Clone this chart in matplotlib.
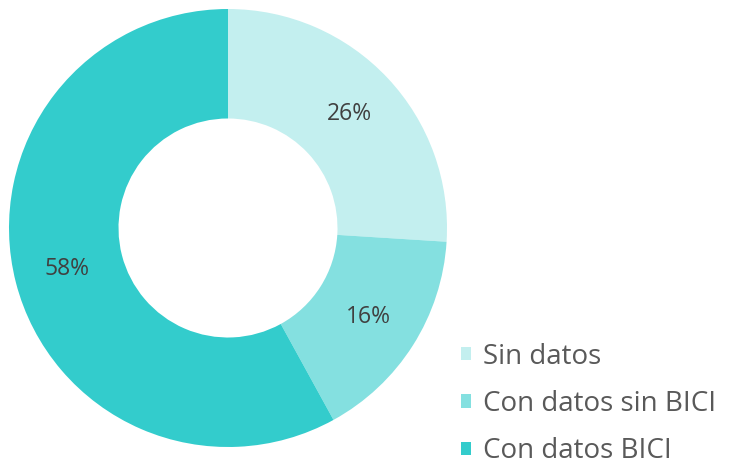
import matplotlib
matplotlib.use("Agg")
import matplotlib.pyplot as plt

# data
labels = ["Sin datos", "Con datos sin BICI", "Con datos BICI"]
values = [26, 16, 58]
colors = ["#c3efef", "#84e0e0", "#33cccc"]

plt.rcParams["font.family"] = ["Open Sans", "DejaVu Sans"]

fig = plt.figure(figsize=(7.29, 4.66), dpi=100)
W, H = 729, 466
cx, cy, r = 228, 228, 219
ax = fig.add_axes([(cx - r) / W, (H - cy - r) / H, 2 * r / W, 2 * r / H])

wedges, texts, autotexts = ax.pie(
    values, colors=colors, startangle=90, counterclock=False,
    autopct=lambda p: f"{p:.0f}%", pctdistance=0.76,
    wedgeprops=dict(width=0.5, linewidth=0),
    textprops=dict(color="#404040", fontsize=16.5),
)
ax.set_xlim(-1, 1)
ax.set_ylim(-1, 1)
ax.set_aspect("equal")

leg = fig.legend(
    wedges, labels, loc="center left", bbox_to_anchor=(442 / W, 62 / H),
    frameon=False, fontsize=20, labelcolor="#595959",
    handlelength=0.36, handleheight=0.36, handletextpad=0.42,
    labelspacing=0.7, borderpad=0.2,
)

fig.savefig("out.png", dpi=100)
